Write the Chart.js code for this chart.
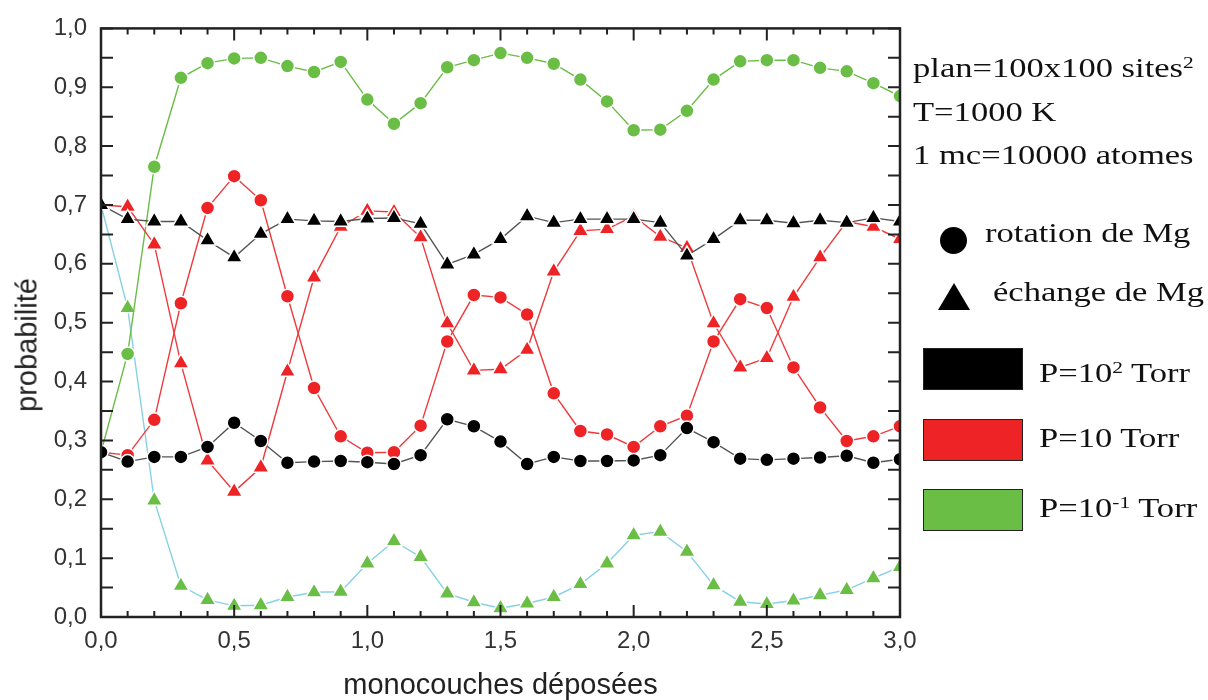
<!DOCTYPE html>
<html>
<head>
<meta charset="utf-8">
<script src="https://cdn.jsdelivr.net/npm/chart.js@4.4.1/dist/chart.umd.min.js"></script>
<style>
  body { margin: 0; background: #fff; }
  #wrap { position: relative; width: 1208px; height: 700px; overflow: hidden; }
  #c { position: absolute; left: 0; top: 0; }
  .t { position: absolute; font-family: "Liberation Serif", "Times New Roman", serif; font-size: 27px; line-height: 27px;
       color: #111; white-space: nowrap; transform: scaleX(1.28); transform-origin: 0 0; }
  .t sup { font-size: 0.62em; vertical-align: 0.55em; line-height: 0; }
  .box { position: absolute; left: 923px; width: 100px; height: 42px; border: 1px solid #222; box-sizing: border-box; }
  .dot { position: absolute; left: 940px; top: 227px; width: 27px; height: 27px; border-radius: 50%; background: #000; }
  .tri { position: absolute; left: 938px; top: 283px; }
  .ytitle { position: absolute; left: 27px; top: 345px; font-family: "Liberation Sans", Arial, sans-serif; font-size: 29px;
            line-height: 29px; color: #222; white-space: nowrap; transform: translate(-50%, -50%) rotate(-90deg); }
</style>
</head>
<body>
<div id="wrap">
  <canvas id="c" width="1208" height="700"></canvas>
  <div class="ytitle">probabilité</div>
  <div class="t" style="left:913px;top:55px">plan=100x100 sites<sup>2</sup></div>
  <div class="t" style="left:913px;top:99px">T=1000 K</div>
  <div class="t" style="left:913px;top:142px">1 mc=10000 atomes</div>
  <div class="dot"></div>
  <div class="t" style="left:985px;top:220px">rotation de Mg</div>
  <svg class="tri" width="32" height="27" viewBox="0 0 32 27"><polygon points="16,0 32,27 0,27" fill="#000"/></svg>
  <div class="t" style="left:993px;top:279px">échange de Mg</div>
  <div class="box" style="top:348px;background:#000"></div>
  <div class="t" style="left:1039px;top:360px">P=10<sup>2</sup> Torr</div>
  <div class="box" style="top:419px;background:#ee2326"></div>
  <div class="t" style="left:1039px;top:425px">P=10 Torr</div>
  <div class="box" style="top:489px;background:#6abd45"></div>
  <div class="t" style="left:1039px;top:495px">P=10<sup>-1</sup> Torr</div>
</div>
<script>
// ---- data ----
const monocouches = [0.0,0.1,0.2,0.3,0.4,0.5,0.6,0.7,0.8,0.9,1.0,1.1,1.2,1.3,1.4,1.5,1.6,1.7,1.8,1.9,2.0,2.1,2.2,2.3,2.4,2.5,2.6,2.7,2.8,2.9,3.0];

const rotP100 = [0.28,0.264,0.272,0.272,0.289,0.330,0.299,0.262,0.264,0.265,0.263,0.260,0.275,0.336,0.324,0.298,0.260,0.272,0.265,0.265,0.266,0.275,0.321,0.297,0.269,0.267,0.269,0.271,0.274,0.262,0.268];
const echP100 = [0.70,0.676,0.672,0.672,0.640,0.611,0.651,0.676,0.673,0.672,0.677,0.678,0.668,0.599,0.616,0.642,0.681,0.670,0.676,0.676,0.676,0.670,0.614,0.642,0.674,0.674,0.669,0.674,0.670,0.678,0.672];

const rotP10 = [0.28,0.275,0.335,0.533,0.695,0.749,0.708,0.545,0.389,0.307,0.279,0.280,0.325,0.468,0.547,0.543,0.514,0.380,0.316,0.310,0.289,0.324,0.342,0.468,0.540,0.525,0.424,0.356,0.299,0.307,0.324];
const echP10 = [0.70,0.697,0.633,0.431,0.266,0.213,0.254,0.417,0.577,0.663,0.690,0.688,0.645,0.499,0.419,0.421,0.454,0.587,0.656,0.659,0.681,0.646,0.627,0.499,0.424,0.440,0.544,0.611,0.672,0.663,0.642];

const rotP01 = [0.28,0.447,0.765,0.916,0.941,0.949,0.950,0.936,0.926,0.943,0.879,0.838,0.873,0.934,0.946,0.958,0.950,0.940,0.913,0.876,0.827,0.828,0.860,0.913,0.944,0.946,0.946,0.933,0.927,0.907,0.885];
const echP01 = [0.70,0.525,0.198,0.053,0.029,0.019,0.020,0.034,0.042,0.043,0.091,0.129,0.102,0.040,0.025,0.015,0.023,0.034,0.056,0.091,0.139,0.145,0.111,0.054,0.026,0.022,0.028,0.037,0.046,0.066,0.085];

const xTickStep = 0.5, xMinorStep = 0.1;
const yTickStep = 0.1, yMinorStep = 0.05;

const fmt = v => Number(v).toFixed(1).replace('.', ',');
const pts = arr => arr.map((v, i) => ({ x: monocouches[i], y: v }));

function ds(arr, marker, fill, line) {
  return {
    data: pts(arr),
    borderColor: line,
    borderWidth: 1.4,
    backgroundColor: fill,
    pointStyle: marker,
    pointRadius: marker === 'circle' ? 7 : 9.5,
    pointBackgroundColor: fill,
    pointBorderColor: '#ffffff',
    pointBorderWidth: 1.5,
    tension: 0,
    fill: false
  };
}

const frame = {
  id: 'frame',
  afterDatasetsDraw(chart) {
    const { ctx, chartArea: a, scales: { x, y } } = chart;
    ctx.save();
    ctx.strokeStyle = '#222';
    ctx.lineWidth = 2;
    ctx.beginPath();
    const nx = Math.round((x.max - x.min) / xMinorStep);
    for (let i = 0; i <= nx; i++) {
      const v = x.min + i * xMinorStep;
      const px = x.getPixelForValue(v);
      const major = Math.abs(v / xTickStep - Math.round(v / xTickStep)) < 1e-6;
      const L = major ? 12 : 6;
      ctx.moveTo(px, a.bottom); ctx.lineTo(px, a.bottom - L);
      ctx.moveTo(px, a.top); ctx.lineTo(px, a.top + L);
    }
    const ny = Math.round((y.max - y.min) / yMinorStep);
    for (let j = 0; j <= ny; j++) {
      const py = y.getPixelForValue(y.min + j * yMinorStep);
      ctx.moveTo(a.left, py); ctx.lineTo(a.left + 12, py);
      ctx.moveTo(a.right, py); ctx.lineTo(a.right - 12, py);
    }
    ctx.stroke();
    ctx.lineWidth = 2.5;
    ctx.strokeRect(a.left, a.top, a.right - a.left, a.bottom - a.top);
    ctx.restore();
  }
};

const sans = '"Liberation Sans", Arial, Helvetica, sans-serif';

new Chart(document.getElementById('c'), {
  type: 'line',
  data: {
    datasets: [
      Object.assign(ds(rotP100, 'circle', '#000000', '#555555'), { label: 'rotation P=10^2' }),
      Object.assign(ds(echP100, 'triangle', '#000000', '#555555'), { label: 'échange P=10^2' }),
      Object.assign(ds(rotP10, 'circle', '#ee2326', '#ee3a3c'), { label: 'rotation P=10' }),
      Object.assign(ds(echP10, 'triangle', '#ee2326', '#ee3a3c'), { label: 'échange P=10' }),
      Object.assign(ds(rotP01, 'circle', '#6abd45', '#6abd45'), { label: 'rotation P=10^-1' }),
      Object.assign(ds(echP01, 'triangle', '#6abd45', '#86d2e2'), { label: 'échange P=10^-1' })
    ]
  },
  options: {
    responsive: false,
    animation: false,
    layout: { padding: { top: 27, right: 308, left: 0, bottom: 0 } },
    plugins: { legend: { display: false }, tooltip: { enabled: false } },
    scales: {
      x: {
        type: 'linear', min: 0, max: 3,
        afterFit(s) { s.height = 83; },
        grid: { display: false, drawTicks: false },
        border: { display: false },
        ticks: { stepSize: xTickStep, padding: 10, maxRotation: 0, autoSkip: false,
                 font: { family: sans, size: 24 }, color: '#333', callback: v => fmt(v) },
        title: { display: true, text: 'monocouches déposées', color: '#222',
                 font: { family: sans, size: 29, lineHeight: 1 }, padding: { top: 0, bottom: 0 } }
      },
      y: {
        type: 'linear', min: 0, max: 1,
        afterFit(s) { s.width = 101; },
        grid: { display: false, drawTicks: false },
        border: { display: false },
        ticks: { stepSize: yTickStep, padding: 14,
                 font: { family: sans, size: 24 }, color: '#333', callback: v => fmt(v) },
        title: { display: false }
      }
    }
  },
  plugins: [frame]
});
</script>
</body>
</html>
